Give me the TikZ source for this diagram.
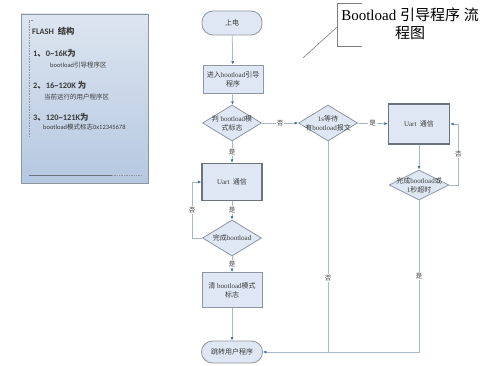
\documentclass[tikz,border=0pt]{standalone}
\usepackage{fontspec}
\setmainfont{Liberation Serif}
\newfontfamily\zhfont{Noto Sans CJK SC}
\newfontfamily\panelfont{Carlito}
\usetikzlibrary{arrows.meta, shapes.geometric, positioning}
\definecolor{edge}{HTML}{8E96A2}
\definecolor{darkedge}{HTML}{6C737D}
\definecolor{boxfill}{HTML}{DFE7F4}
\definecolor{flow}{HTML}{A9B8CB}
\definecolor{tip}{HTML}{4A6EA6}
\definecolor{paneltop}{HTML}{DDE5F0}
\definecolor{panelbot}{HTML}{B5C8E1}
\definecolor{ink}{HTML}{3C3C3C}
\newcommand{\zh}[1]{{\zhfont #1}}

\begin{document}
\begin{tikzpicture}[x=1pt, y=-1pt,
    every node/.style={font=\fontsize{7}{9}\selectfont, text=ink},
    term/.style={draw=edge, fill=boxfill, rounded corners=11pt, minimum width=60pt,
      minimum height=24pt, inner sep=0pt, line width=0.8pt},
    proc/.style={draw=edge, fill=boxfill, minimum width=60pt, inner sep=0pt,
      align=center, line width=0.8pt},
    uartbox/.style={proc, draw=darkedge, line width=1.2pt},
    dia/.style={draw=edge, fill=boxfill, diamond, inner sep=0pt, line width=0.8pt},
    inside/.style={align=center, inner sep=0pt},
    flowline/.style={draw=flow, line width=0.8pt},
    arr/.style={flowline, -{Latex[length=3.5pt, width=3pt, color=tip]}},
    yn/.style={fill=white, inner sep=1pt, font=\fontsize{6.5}{7}\selectfont\zhfont},
    paneltext/.style={anchor=west, inner sep=0pt, font=\panelfont\fontsize{6.5}{8}\selectfont},
    panelhead/.style={anchor=west, inner sep=0pt, font=\panelfont\bfseries\fontsize{8.4}{10}\selectfont}
  ]
  \useasboundingbox (0,0) rectangle (500,366);

  % flash layout panel
  \shade[top color=paneltop, bottom color=panelbot, draw=edge, line width=0.6pt]
    (21,14) rectangle (148,183);
  \draw[edge, densely dotted, line width=0.6pt] (33,20) -- (29,20) -- (29,137);
  \draw[darkedge, line width=0.7pt] (29,175) -- (112,175);
  \draw[edge, densely dotted, line width=0.7pt] (112,175) -- (141,175);
  \node[panelhead] (flash) at (32,31) {FLASH\ \ \zh{结构}};
  \node[panelhead] (seg1) at (33,53) {1\zh{、}0\textasciitilde16K\zh{为}};
  \node[paneltext] (seg1d) at (50,65) {bootload\zh{引导程序区}};
  \node[panelhead] (seg2) at (33,85) {2\zh{、}16\textasciitilde120K \zh{为}};
  \node[paneltext] (seg2d) at (44,97) {\zh{当前运行的用户程序区}};
  \node[panelhead] (seg3) at (33,117) {3\zh{、}120\textasciitilde121K\zh{为}};
  \node[paneltext] (seg3d) at (43,127) {bootload\zh{模式标志}0x12345678};

  % title with bracket
  \node[font=\fontsize{15}{18}\selectfont, align=center, text=black] (title) at (410,24)
    {Bootload \zh{引导程序} \zh{流}\\\zh{程图}};
  \coordinate (brtop) at (362,3);
  \coordinate (brbot) at (362,46);
  \coordinate (brmid) at (337,27);
  \coordinate (leader) at (303,58);
  \draw[gray, line width=0.6pt] (brtop) -- (337,3) -- (337,46) -- (brbot);
  \draw[gray, line width=0.6pt] (brmid) -- (leader);

  % flow nodes
  \node[term] (start) at (232,23) {\zh{上电}};
  \node[proc, minimum height=28pt] (boot) at (233,79) {\zh{进入}bootload\zh{引导}\\\zh{程序}};
  \node[dia, minimum width=59pt, minimum height=36pt] (chk) at (232,123)
    {} node[inside] at (chk) {\zh{判} bootload\zh{模}\\\zh{式标志}};
  \node[dia, minimum width=59pt, minimum height=36pt] (wait) at (328,123)
    {} node[inside] at (wait) {1s\zh{等待}\\\zh{有}bootload\zh{报文}};
  \node[uartbox, minimum width=61pt, minimum height=40pt] (uart2) at (419,124) {Uart\ \ \zh{通信}};
  \node[dia, minimum width=60pt, minimum height=30pt] (done2) at (419,185)
    {} node[inside] at (done2) {\zh{完成}bootload\zh{或}\\1\zh{秒超时}};
  \node[uartbox, minimum height=37pt] (uart1) at (232,182) {Uart\ \ \zh{通信}};
  \node[dia, minimum width=59pt, minimum height=36pt] (done1) at (232,238)
    {} node[inside] at (done1) {\zh{完成}bootload};
  \node[proc, minimum height=35pt] (clr) at (232,290) {\zh{清} bootload\zh{模式}\\\zh{标志}};
  \node[term, minimum width=61pt, minimum height=22pt] (end) at (232,352) {\zh{跳转用户程序}};

  % connectors
  \draw[arr] (start) -- (boot);
  \draw[arr] (boot) -- (chk);
  \draw[arr] (chk) -- node[yn] {否} (wait);
  \draw[arr] (wait) -- node[yn] {是} (uart2);
  \draw[arr] (uart2) -- (done2);
  \draw[arr] (done2.east) -- ++(9,0) |- node[yn, pos=0.25] {否} (uart2.east);
  \draw[arr] (done2.south) |- node[yn, pos=0.25] {是} (end.east);
  \draw[flowline] (wait.south) -- node[yn, pos=0.65] {否} (wait.south |- end.east);
  \draw[arr] (chk) -- node[yn] {是} (uart1);
  \draw[arr] (uart1) -- node[yn] {是} (done1);
  \draw[arr] (done1.west) -- ++(-10,0) |- node[yn, pos=0.25] {否} (uart1.west);
  \draw[arr] (done1) -- node[yn] {是} (clr);
  \draw[arr] (clr) -- (end);
\end{tikzpicture}
\end{document}
